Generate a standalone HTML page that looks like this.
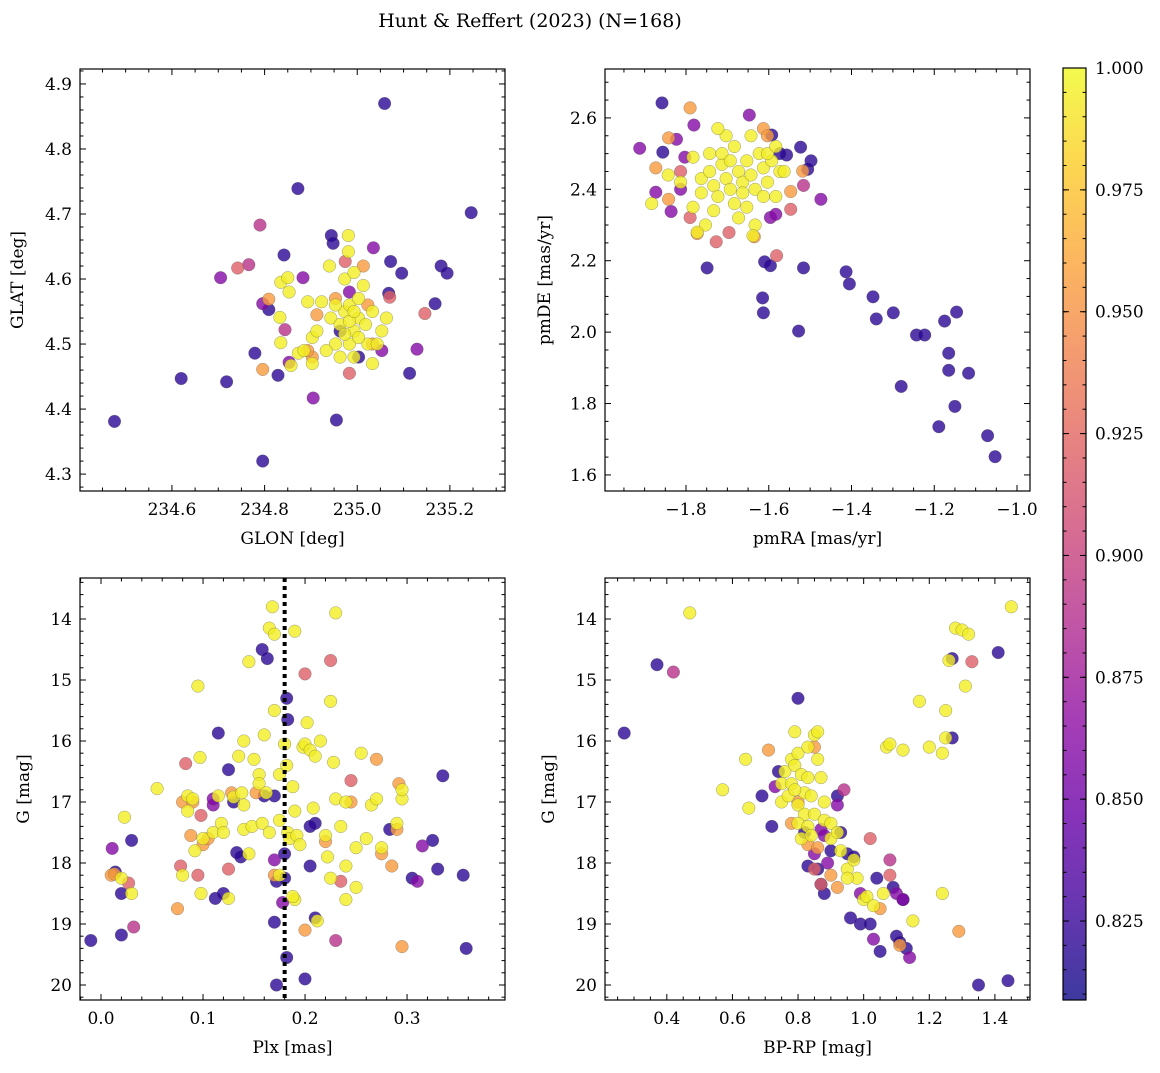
<!DOCTYPE html>
<html><head><meta charset="utf-8"><style>
body{margin:0;background:#fff;}
svg text{font-family:"DejaVu Serif","Liberation Serif",serif;fill:#000;}
</style></head><body>
<svg id="fig" width="1160" height="1068" viewBox="0 0 1160 1068">
<defs>
<linearGradient id="plasma" x1="0" y1="1" x2="0" y2="0">
<stop offset="0" stop-color="#0d0887"/><stop offset="0.1" stop-color="#41049d"/><stop offset="0.2" stop-color="#6a00a8"/><stop offset="0.3" stop-color="#8f0da4"/><stop offset="0.4" stop-color="#b12a90"/><stop offset="0.5" stop-color="#cc4778"/><stop offset="0.6" stop-color="#e16462"/><stop offset="0.7" stop-color="#f2844b"/><stop offset="0.8" stop-color="#fca636"/><stop offset="0.9" stop-color="#fcce25"/><stop offset="1" stop-color="#f0f921"/>
</linearGradient>
</defs>
<text x="530" y="27" font-size="19" text-anchor="middle">Hunt &amp; Reffert (2023) (N=168)</text>
</svg>
<script>
// ---- data ----
const D=0.82,P=0.86,M=0.89,K=0.92,O=0.955,Y=0.995;
const glonGlat=[
[234.476,4.381,D],[235.059,4.870,D],[234.872,4.739,D],[235.246,4.702,D],[234.62,4.447,D],[234.718,4.442,D],[234.796,4.320,D],[234.955,4.383,D],
[234.79,4.683,M],[234.705,4.602,P],[234.742,4.617,K],[234.766,4.622,M],[234.842,4.637,D],[234.883,4.602,P],[234.944,4.667,D],[234.948,4.655,D],
[234.974,4.627,K],[235.035,4.648,P],[235.072,4.627,D],[235.096,4.609,D],[235.146,4.547,K],[235.168,4.562,D],[235.181,4.620,D],[235.194,4.609,D],
[235.129,4.492,P],[235.113,4.455,D],[234.779,4.486,D],[234.829,4.452,D],[234.796,4.562,P],[234.809,4.553,D],[234.796,4.461,O],[234.844,4.522,M],
[234.853,4.472,P],[234.905,4.417,P],[234.983,4.455,K],[235.07,4.572,K],[235.068,4.578,D],[234.983,4.58,P],[234.963,4.52,D],[235.003,4.48,D],[235.053,4.49,P],
[234.913,4.545,O],[235.013,4.62,O],[234.953,4.57,O],[235.023,4.56,O],[235.033,4.5,O],[234.903,4.48,O],[234.893,4.49,O],[234.809,4.569,O],
[234.981,4.667,Y],[234.94,4.62,Y],[234.981,4.642,Y],[234.835,4.595,Y],[234.85,4.602,Y],[234.853,4.58,Y],[234.833,4.541,Y],[234.835,4.502,Y],
[234.857,4.467,Y],[234.873,4.486,Y],[234.885,4.49,Y],[234.903,4.51,Y],[234.893,4.565,Y],[234.923,4.565,Y],[234.943,4.54,Y],[234.963,4.53,Y],
[234.973,4.55,Y],[234.983,4.56,Y],[234.993,4.52,Y],[235.003,4.54,Y],[235.013,4.59,Y],[235.023,4.5,Y],[235.033,4.55,Y],[235.043,4.5,Y],[235.053,4.52,Y],
[235.063,4.54,Y],[234.953,4.5,Y],[234.963,4.48,Y],[234.983,4.5,Y],[234.993,4.48,Y],[234.973,4.6,Y],[234.993,4.61,Y],[235.003,4.57,Y],[235.018,4.53,Y],
[234.983,4.535,Y],[234.973,4.515,Y],[234.953,4.56,Y],[234.933,4.49,Y],[234.913,4.52,Y],[234.993,4.55,Y],[235.003,4.51,Y],[235.033,4.47,Y],[234.903,4.47,Y]
];
const pmraPmde=[
[-1.516,2.180,D],[-1.610,2.197,D],[-1.596,2.186,D],[-1.749,2.180,D],[-1.615,2.096,D],[-1.613,2.054,D],[-1.528,2.003,D],[-1.413,2.169,D],
[-1.405,2.135,D],[-1.348,2.099,D],[-1.340,2.037,D],[-1.299,2.054,D],[-1.280,1.848,D],[-1.243,1.992,D],[-1.223,1.992,D],[-1.175,2.031,D],
[-1.146,2.056,D],[-1.165,1.941,D],[-1.165,1.893,D],[-1.117,1.885,D],[-1.150,1.792,D],[-1.189,1.735,D],[-1.071,1.710,D],[-1.053,1.651,D],
[-1.474,2.372,P],[-1.858,2.642,D],[-1.856,2.504,D],[-1.506,2.456,D],[-1.523,2.518,D],[-1.557,2.496,D],[-1.593,2.552,D],[-1.573,2.50,D],[-1.498,2.48,D],
[-1.912,2.515,P],[-1.647,2.608,P],[-1.781,2.58,P],[-1.873,2.392,P],[-1.836,2.338,P],[-1.596,2.321,P],[-1.583,2.33,P],[-1.803,2.49,P],[-1.823,2.54,P],[-1.813,2.40,P],
[-1.790,2.321,K],[-1.727,2.253,K],[-1.696,2.279,K],[-1.547,2.344,K],[-1.581,2.214,K],[-1.516,2.411,M],[-1.813,2.45,K],
[-1.790,2.628,O],[-1.842,2.544,O],[-1.842,2.372,O],[-1.773,2.276,O],[-1.635,2.267,O],[-1.547,2.394,O],[-1.518,2.451,O],[-1.613,2.57,O],[-1.603,2.55,O],[-1.873,2.46,O],
[-1.783,2.49,Y],[-1.763,2.43,Y],[-1.743,2.45,Y],[-1.733,2.41,Y],[-1.723,2.38,Y],[-1.713,2.47,Y],[-1.703,2.43,Y],[-1.693,2.40,Y],[-1.683,2.52,Y],[-1.683,2.36,Y],
[-1.673,2.45,Y],[-1.663,2.42,Y],[-1.653,2.48,Y],[-1.643,2.44,Y],[-1.633,2.40,Y],[-1.623,2.50,Y],[-1.613,2.46,Y],[-1.603,2.42,Y],[-1.593,2.48,Y],[-1.583,2.38,Y],
[-1.573,2.45,Y],[-1.703,2.55,Y],[-1.723,2.57,Y],[-1.743,2.50,Y],[-1.763,2.39,Y],[-1.783,2.35,Y],[-1.813,2.42,Y],[-1.843,2.44,Y],[-1.883,2.36,Y],[-1.673,2.32,Y],
[-1.653,2.35,Y],[-1.633,2.30,Y],[-1.603,2.50,Y],[-1.583,2.52,Y],[-1.563,2.45,Y],[-1.643,2.55,Y],[-1.713,2.50,Y],[-1.693,2.48,Y],[-1.663,2.39,Y],[-1.733,2.34,Y],
[-1.613,2.38,Y],[-1.753,2.30,Y],[-1.773,2.28,Y],[-1.638,2.27,Y]
];
const plxG=[
[-0.01,19.27,D],[0.011,17.76,P],[0.014,18.15,D],[0.02,18.5,D],[0.02,19.18,D],[0.03,17.63,D],[0.027,18.33,K],[0.032,19.05,M],[0.115,15.87,D],
[0.11,17.05,P],[0.112,18.58,D],[0.12,18.5,D],[0.125,16.47,D],[0.13,17.0,D],[0.133,17.83,D],[0.158,14.5,D],[0.163,14.65,D],[0.16,16.9,D],
[0.17,16.9,D],[0.17,17.95,P],[0.172,18.3,D],[0.17,18.97,D],[0.18,17.85,D],[0.18,18.25,D],[0.178,18.65,P],[0.182,19.55,D],[0.182,15.3,D],
[0.183,15.65,D],[0.172,20.0,D],[0.2,19.9,D],[0.205,18.05,D],[0.21,17.35,D],[0.205,17.4,D],[0.21,18.9,D],[0.23,19.27,M],[0.2,14.9,K],
[0.225,14.68,K],[0.283,17.45,D],[0.305,18.25,D],[0.31,18.3,P],[0.315,17.72,P],[0.325,17.63,D],[0.33,18.1,D],[0.335,16.57,D],[0.355,18.2,D],
[0.358,19.4,D],[0.292,16.7,O],[0.29,17.45,O],[0.11,16.95,P],[0.137,17.9,D],
[0.01,18.2,O],[0.013,18.18,O],[0.075,18.75,O],[0.078,18.05,K],[0.08,17.0,O],[0.083,16.37,K],[0.088,17.55,O],[0.09,17.0,O],[0.095,18.2,K],
[0.098,17.22,K],[0.1,17.7,O],[0.105,17.6,O],[0.125,18.1,K],[0.128,16.85,O],[0.152,16.85,O],[0.17,18.2,O],[0.2,19.1,O],[0.27,16.3,O],
[0.275,17.85,O],[0.285,18.05,O],[0.295,19.37,O],[0.245,16.65,K],[0.22,17.65,O],[0.235,18.3,K],[0.245,17.0,O],
[0.023,17.25,Y],[0.02,18.25,Y],[0.055,16.78,Y],[0.03,18.5,Y],[0.08,18.2,Y],[0.085,16.9,Y],[0.085,17.15,Y],[0.09,16.95,Y],[0.092,17.8,Y],
[0.095,15.1,Y],[0.097,16.27,Y],[0.098,18.5,Y],[0.1,17.6,Y],[0.11,17.5,Y],[0.115,16.9,Y],[0.118,17.35,Y],[0.12,17.5,Y],[0.125,18.58,Y],
[0.13,16.92,Y],[0.135,16.25,Y],[0.138,16.85,Y],[0.14,16.0,Y],[0.14,17.45,Y],[0.14,17.05,Y],[0.145,17.85,Y],[0.148,17.4,Y],[0.15,16.3,Y],
[0.155,16.55,Y],[0.155,16.7,Y],[0.158,17.35,Y],[0.16,15.9,Y],[0.162,16.85,Y],[0.165,14.15,Y],[0.165,17.5,Y],[0.168,13.8,Y],[0.17,14.25,Y],
[0.17,15.5,Y],[0.175,17.3,Y],[0.175,16.55,Y],[0.18,16.05,Y],[0.182,16.4,Y],[0.183,17.5,Y],[0.185,17.6,Y],[0.188,16.75,Y],[0.19,14.2,Y],
[0.19,17.15,Y],[0.192,17.55,Y],[0.195,17.7,Y],[0.198,16.1,Y],[0.2,16.05,Y],[0.202,15.7,Y],[0.205,16.15,Y],[0.208,17.1,Y],[0.21,16.25,Y],
[0.212,18.95,Y],[0.215,16.0,Y],[0.22,17.55,Y],[0.222,17.9,Y],[0.225,15.35,Y],[0.228,16.35,Y],[0.23,13.9,Y],[0.23,16.95,Y],[0.235,17.4,Y],
[0.24,17.0,Y],[0.24,18.05,Y],[0.24,18.6,Y],[0.25,18.4,Y],[0.25,17.75,Y],[0.255,16.2,Y],[0.26,17.6,Y],[0.265,17.05,Y],[0.27,16.95,Y],
[0.275,17.75,Y],[0.29,17.35,Y],[0.295,16.95,Y],[0.295,16.8,Y],[0.225,18.25,Y],[0.19,18.6,Y],[0.188,18.55,Y],[0.175,18.2,Y],[0.145,14.7,Y]
];
const bprpG=[
[0.27,15.87,D],[0.37,14.75,D],[0.69,16.9,D],[0.72,17.4,D],[0.74,16.5,D],[0.80,15.3,D],[0.83,18.05,D],[0.87,18.35,D],[0.88,18.5,D],[0.9,17.8,D],
[0.92,16.9,D],[0.93,17.5,D],[0.95,17.85,D],[0.96,18.9,D],[0.99,19.0,D],[1.02,19.0,D],[1.04,18.25,D],[1.05,19.45,D],[1.09,18.4,D],[1.1,19.2,D],
[1.11,19.3,D],[1.12,18.6,D],[1.13,19.4,D],[1.14,19.55,P],[1.27,14.65,D],[1.27,15.95,D],[1.35,20.0,D],[1.41,14.55,D],[1.44,19.93,D],[0.97,17.9,D],
[0.86,18.1,D],[0.82,17.5,D],
[0.42,14.87,M],[0.73,16.75,P],[0.85,17.85,P],[0.87,17.45,P],[0.89,18.0,P],[0.94,16.8,M],[1.08,17.95,M],[1.1,18.5,P],[1.12,18.6,P],[1.33,14.7,K],
[0.99,18.5,P],[1.03,19.25,P],[0.88,17.55,P],[0.92,17.05,P],
[0.71,16.15,O],[0.78,17.35,O],[0.8,17.0,O],[0.83,17.7,O],[0.85,18.1,K],[0.87,18.35,K],[0.9,18.2,O],[0.92,18.4,O],[1.02,17.6,K],[1.05,18.75,O],
[1.08,18.2,K],[1.11,19.35,O],[1.29,19.12,O],[0.85,16.1,O],[0.86,17.75,O],
[0.47,13.9,Y],[0.57,16.8,Y],[0.64,16.3,Y],[0.65,17.1,Y],[0.75,16.7,Y],[0.75,17.0,Y],[0.76,16.5,Y],[0.77,16.9,Y],[0.78,16.3,Y],[0.78,16.7,Y],
[0.79,15.85,Y],[0.79,16.4,Y],[0.8,17.05,Y],[0.8,16.2,Y],[0.81,16.55,Y],[0.82,16.85,Y],[0.82,17.2,Y],[0.83,16.1,Y],[0.83,16.6,Y],[0.84,16.9,Y],
[0.85,15.9,Y],[0.85,17.2,Y],[0.86,16.3,Y],[0.86,15.85,Y],[0.87,16.6,Y],[0.88,17.0,Y],[0.88,17.3,Y],[0.9,17.35,Y],[0.9,17.6,Y],[0.92,17.5,Y],
[0.93,17.8,Y],[0.95,18.1,Y],[0.97,17.95,Y],[0.98,18.25,Y],[1.0,18.6,Y],[1.01,18.55,Y],[1.03,18.7,Y],[1.06,18.5,Y],[1.15,18.95,Y],[1.24,18.5,Y],
[1.07,16.1,Y],[1.08,16.05,Y],[1.12,16.15,Y],[1.17,15.35,Y],[1.2,16.1,Y],[1.24,16.2,Y],[1.25,15.5,Y],[1.25,15.95,Y],[1.26,14.68,Y],[1.28,14.15,Y],
[1.3,14.18,Y],[1.31,15.1,Y],[1.32,14.25,Y],[1.45,13.8,Y],[0.8,17.35,Y],[0.83,17.4,Y],[0.79,16.8,Y],[0.81,17.6,Y],[0.84,17.55,Y],[0.95,18.25,Y]
];
const plxMedian=0.18;
const cbTicks=[0.825,0.85,0.875,0.9,0.925,0.95,0.975,1.0];
const cbMin=0.8088, cbMax=1.0;

// ---- rendering ----
const NS="http://www.w3.org/2000/svg";
const svg=document.getElementById('fig');
function mk(tag,attrs,parent){const e=document.createElementNS(NS,tag);for(const k in attrs)e.setAttribute(k,attrs[k]);(parent||svg).appendChild(e);return e;}
const stops=[[0,13,8,135],[0.1,65,4,157],[0.2,106,0,168],[0.3,143,13,164],[0.4,177,42,144],[0.5,204,71,120],[0.6,225,100,98],[0.7,242,132,75],[0.8,252,166,54],[0.9,252,206,37],[1,240,249,33]];
function plasma(t){t=Math.max(0,Math.min(1,t));for(let i=1;i<stops.length;i++){if(t<=stops[i][0]){const a=stops[i-1],b=stops[i],f=(t-a[0])/(b[0]-a[0]);return `rgb(${Math.round(a[1]+f*(b[1]-a[1]))},${Math.round(a[2]+f*(b[2]-a[2]))},${Math.round(a[3]+f*(b[3]-a[3]))})`;}}return 'rgb(240,249,33)';}
function fmt(v,d){return v.toFixed(d).replace('-','\u2212');}

function panel(cfg){
 const g=mk('g',{});
 
 
 const {x0,x1,y0,y1,xmin,xmax,ymin,ymax,inv}=cfg;
 const sx=v=>x0+(v-xmin)/(xmax-xmin)*(x1-x0);
 const sy=v=>inv? y0+(v-ymin)/(ymax-ymin)*(y1-y0) : y1-(v-ymin)/(ymax-ymin)*(y1-y0);
 const pts=cfg.data.slice().sort((a,b)=>a[2]-b[2]);
 for(const p of pts){
  const c=mk('circle',{cx:sx(p[0]).toFixed(1),cy:sy(p[1]).toFixed(1),r:6.3,fill:plasma((p[2]-cbMin)/(cbMax-cbMin)),'fill-opacity':0.8,stroke:'#555','stroke-width':0.4,'stroke-opacity':0.7},g);
  
  
 }
 if(cfg.vline!==undefined){
  const l=mk('line',{x1:sx(cfg.vline),x2:sx(cfg.vline),y1:y0,y2:y1,stroke:'#000','stroke-width':4,'stroke-dasharray':'4,4'},g);
  
  
 }
 const fr=mk('rect',{x:x0,y:y0,width:x1-x0,height:y1-y0,fill:'none',stroke:'#000','stroke-width':1.2},g);
 
 
 const eps=1e-9;
 const xStart=Math.ceil((xmin-eps)/cfg.xminor)*cfg.xminor;
 for(let v=xStart;v<=xmax+eps;v+=cfg.xminor){
  const major=Math.abs(v/cfg.xmajor-Math.round(v/cfg.xmajor))<1e-6;const L=major?6:3.5;const X=sx(v);
  mk('line',{x1:X,x2:X,y1:y1,y2:y1-L,stroke:'#000','stroke-width':1},g);
  mk('line',{x1:X,x2:X,y1:y0,y2:y0+L,stroke:'#000','stroke-width':1},g);
  if(major){const t=mk('text',{x:X,y:y1+24,'font-size':17,'text-anchor':'middle'},g);t.textContent=fmt(Math.abs(v)<1e-9?0:v,cfg.xdec);
   }
 }
 const yStart=Math.ceil((ymin-eps)/cfg.yminor)*cfg.yminor;
 for(let v=yStart;v<=ymax+eps;v+=cfg.yminor){
  const major=Math.abs(v/cfg.ymajor-Math.round(v/cfg.ymajor))<1e-6;const L=major?6:3.5;const Yp=sy(v);
  mk('line',{x1:x0,x2:x0+L,y1:Yp,y2:Yp,stroke:'#000','stroke-width':1},g);
  mk('line',{x1:x1,x2:x1-L,y1:Yp,y2:Yp,stroke:'#000','stroke-width':1},g);
  if(major){const t=mk('text',{x:x0-8,y:Yp+6,'font-size':17,'text-anchor':'end'},g);t.textContent=fmt(v,cfg.ydec);
   }
 }
 const xl=mk('text',{x:(x0+x1)/2,y:y1+53,'font-size':17,'text-anchor':'middle'},g);xl.textContent=cfg.xlabel;
 
 const yx=cfg.ylabx, yc=(y0+y1)/2;
 const yl=mk('text',{x:yx,y:yc,'font-size':17,'text-anchor':'middle',transform:`rotate(-90 ${yx} ${yc})`},g);yl.textContent=cfg.ylabel;
 
}
panel({name:'glon-glat-panel',data:glonGlat,x0:80,x1:505,y0:69,y1:491,xmin:234.4015,xmax:235.319,ymin:4.274,ymax:4.923,xmajor:0.2,xminor:0.05,ymajor:0.1,yminor:0.02,xdec:1,ydec:1,xlabel:'GLON [deg]',ylabel:'GLAT [deg]',ylabx:23});
panel({name:'proper-motion-panel',data:pmraPmde,x0:605,x1:1030,y0:69,y1:491,xmin:-1.9958,xmax:-0.9686,ymin:1.555,ymax:2.737,xmajor:0.2,xminor:0.05,ymajor:0.2,yminor:0.05,xdec:1,ydec:1,xlabel:'pmRA [mas/yr]',ylabel:'pmDE [mas/yr]',ylabx:550});
panel({name:'parallax-magnitude-panel',data:plxG,x0:80,x1:505,y0:578,y1:1000,xmin:-0.0206,xmax:0.396,ymin:13.328,ymax:20.246,inv:true,xmajor:0.1,xminor:0.02,ymajor:1,yminor:0.2,xdec:1,ydec:0,xlabel:'Plx [mas]',ylabel:'G [mag]',ylabx:29,vline:plxMedian});
panel({name:'color-magnitude-panel',data:bprpG,x0:605,x1:1030,y0:578,y1:1000,xmin:0.2116,xmax:1.507,ymin:13.328,ymax:20.246,inv:true,xmajor:0.2,xminor:0.05,ymajor:1,yminor:0.2,xdec:1,ydec:0,xlabel:'BP-RP [mag]',ylabel:'G [mag]',ylabx:554});

// colorbar
const cb=mk('g',{});


const cbx0=1063,cbx1=1086,cby0=68,cby1=1000;
mk('rect',{x:cbx0,y:cby0,width:cbx1-cbx0,height:cby1-cby0,fill:'url(#plasma)','fill-opacity':0.8},cb);
mk('rect',{x:cbx0,y:cby0,width:cbx1-cbx0,height:cby1-cby0,fill:'none',stroke:'#000','stroke-width':1.2},cb);
const cy=v=>cby1-(v-cbMin)/(cbMax-cbMin)*(cby1-cby0);
for(let v=0.81;v<=1.0001;v+=0.005){const Yp=cy(v);mk('line',{x1:cbx1,x2:cbx1-3.5,y1:Yp,y2:Yp,stroke:'#000','stroke-width':1},cb);mk('line',{x1:cbx0,x2:cbx0+3.5,y1:Yp,y2:Yp,stroke:'#000','stroke-width':1},cb);}
for(const v of cbTicks){const Yp=cy(v);mk('line',{x1:cbx1,x2:cbx1-6,y1:Yp,y2:Yp,stroke:'#000','stroke-width':1},cb);mk('line',{x1:cbx0,x2:cbx0+6,y1:Yp,y2:Yp,stroke:'#000','stroke-width':1},cb);
 const t=mk('text',{x:cbx1+9,y:Yp+6,'font-size':17},cb);t.textContent=v.toFixed(3);
 }
</script>
</body></html>
